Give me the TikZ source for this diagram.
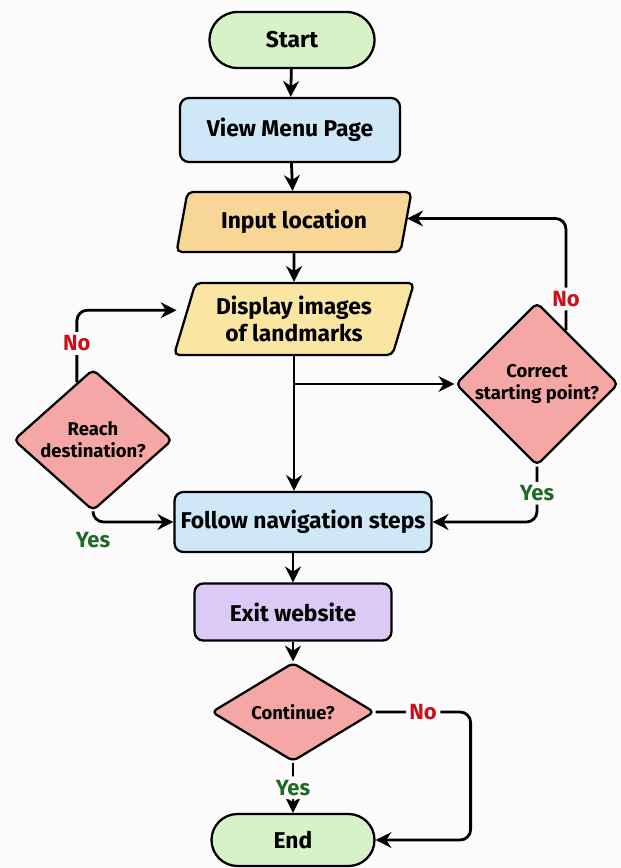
\documentclass[tikz,border=0pt]{standalone}
\usepackage{fontspec}
\setmainfont{Fira Sans}
\usetikzlibrary{shapes.geometric,shapes.misc,arrows.meta,calc}

\definecolor{termgreen}{HTML}{D6F2C6}
\definecolor{procblue}{HTML}{CFE8F8}
\definecolor{inorange}{HTML}{F8D796}
\definecolor{outyellow}{HTML}{FAE6A2}
\definecolor{decpink}{HTML}{F4A7A5}
\definecolor{exitpurple}{HTML}{DACAF5}
\definecolor{nored}{HTML}{C8101A}
\definecolor{yesgreen}{HTML}{1F6B26}
\definecolor{pagebg}{HTML}{FBFBFB}

\tikzset{
  base/.style={draw=black, line width=1.3pt, align=center, inner sep=0pt,
    font=\fontsize{13}{15.5}\selectfont\bfseries},
  term/.style={base, rounded rectangle, fill=termgreen},
  proc/.style={base, rectangle, rounded corners=5pt, fill=procblue},
  io/.style={base, trapezium, trapezium left angle=65, trapezium right angle=115,
    trapezium stretches body, rounded corners=3pt},
  decision/.style={base, diamond, fill=decpink, rounded corners=3pt,
    font=\fontsize{10.5}{12.5}\selectfont\bfseries},
  arr/.style={line width=1.6pt, -{Stealth[length=9pt,width=9pt]}, rounded corners=6pt},
  nolabel/.style={text=nored, fill=pagebg, inner sep=2pt, font=\fontsize{12.5}{14}\selectfont\bfseries},
  yeslabel/.style={text=yesgreen, fill=pagebg, inner sep=2pt, font=\fontsize{12.5}{14}\selectfont\bfseries}
}

\begin{document}
\begin{tikzpicture}[x=0.02cm, y=-0.02cm]
\fill[pagebg] (0,0) rectangle (621,868);
\useasboundingbox (0,0) rectangle (621,868);

% main column
\node[term, minimum width=3.3cm, minimum height=1.12cm] (start) at (292,40) {Start};
\node[proc, minimum width=4.4cm, minimum height=1.28cm] (menu) at (290,130) {View Menu Page};
\node[io, fill=inorange, minimum width=4.7cm, minimum height=1.2cm] (input) at (294,222) {Input location};
\node[io, fill=outyellow, minimum width=4.8cm, minimum height=1.44cm] (display) at (294,319) {Display images\\of landmarks};
\node[proc, minimum width=5.14cm, minimum height=1.2cm] (follow) at (303,522) {Follow navigation steps};
\node[proc, fill=exitpurple, minimum width=3.94cm, minimum height=1.14cm] (exit) at (293,612) {Exit website};
\node[decision, minimum width=3.26cm, minimum height=1.8cm] (cont) at (293,712) {Continue?};
\node[term, minimum width=3.26cm, minimum height=1.04cm] (end) at (293,840) {End};

% side decisions
\node[decision, minimum width=3.2cm, minimum height=2.5cm] (correct) at (537,384) {Correct\\starting point?};
\node[decision, minimum width=3.18cm, minimum height=2.4cm] (reach) at (93,440) {Reach\\destination?};

\draw[arr] (start) -- (menu);
\draw[arr] (menu) -- (input);
\draw[arr] (input) -- (display);
\draw[arr] (display.south) -- (display.south |- follow.north);
\coordinate (split) at (display.south |- correct.west);
\draw[arr] (split) -- (correct.west);

% correct starting point?
\draw[arr] ($(correct.north)!0.35!(correct.east)$) |- node[nolabel, pos=0.14] {No} ([yshift=2pt]input.east);
\draw[arr] (correct.south) |- node[yeslabel, pos=0.24] {Yes} (follow.east);

% reach destination?
\draw[arr] ($(reach.north)!0.2!(reach.west)$) |- node[nolabel, pos=0.27] {No} ([yshift=5pt,xshift=-4pt]display.west);
\draw[arr] (reach.south) |- node[yeslabel, pos=0.5, below=3pt] {Yes} (follow.west);

\draw[arr] (follow.south -| exit.north) -- (exit.north);
\draw[arr] (exit) -- (cont);

% continue?
\draw[arr] (cont.south) -- node[yeslabel] {Yes} (end.north);
\draw[arr] (cont.east) -- node[nolabel] {No} ++(95,0) |- (end.east);
\end{tikzpicture}
\end{document}
